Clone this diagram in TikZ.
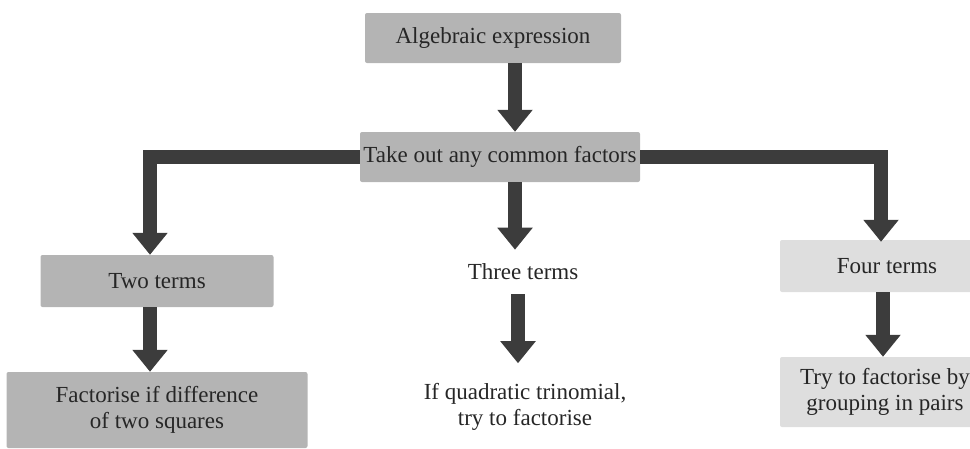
\documentclass[tikz,border=0pt]{standalone}
\usepackage{fontspec}
\setmainfont{Liberation Serif}
\usetikzlibrary{arrows.meta}
\definecolor{boxgray}{HTML}{B4B4B4}
\definecolor{fadegray}{HTML}{DEDEDE}
\definecolor{arrowgray}{HTML}{3C3C3C}

\begin{document}
\begin{tikzpicture}[x=1pt,y=-1pt,
    tbox/.style={fill=boxgray, rounded corners=2pt, inner sep=0pt, text=black!85,
        font=\fontsize{23}{26}\selectfont, align=center},
    fbox/.style={tbox, fill=fadegray},
    plain/.style={inner sep=0pt, text=black!85, font=\fontsize{23}{26}\selectfont, align=center},
    fat/.style={line width=14pt, draw=arrowgray, -{Triangle[width=34pt,length=22pt]}}]
    \useasboundingbox (0,0) rectangle (970,448);
    % factorising flow chart
        \node (alg) at (493,38) [tbox, minimum width=256pt, minimum height=50pt] {Algebraic expression};
        \node (common) at (500,157) [tbox, minimum width=280pt, minimum height=50pt] {Take out any common factors};
        \node (two) at (157,281) [tbox, minimum width=233pt, minimum height=52pt] {Two terms};
        \node (diff) at (157,410) [tbox, minimum width=301pt, minimum height=76pt] {Factorise if difference\\of two squares};
        \node (three) at (523,272) [plain] {Three terms};
        \node (quad) at (525,407) [plain] {If quadratic trinomial,\\try to factorise};
        \node (four) at (895,266) [fbox, minimum width=230pt, minimum height=52pt] {\hspace*{-16pt}Four terms};
        \node (pairs) at (895,392) [fbox, minimum width=230pt, minimum height=70pt] {\hspace*{-20pt}Try to factorise by\\\hspace*{-20pt}grouping in pairs};

        \draw[fat] ([xshift=22pt]alg.south) -- ([xshift=15pt]common.north);
        \draw[fat] (common.west) -| ([xshift=-7pt]two.north);
        \draw[fat] ([xshift=-7pt]two.south) -- ([xshift=-7pt]diff.north);
        \draw[fat] ([xshift=15pt]common.south) -- ([xshift=-8pt,yshift=14pt]three.north);
        \draw[fat] ([xshift=-5pt,yshift=-14pt]three.south) -- ([xshift=-7pt,yshift=20pt]quad.north);
        \draw[fat] (common.east) -| ([xshift=-14pt,yshift=-2pt]four.north);
        \draw[fat] ([xshift=-12pt]four.south) -- ([xshift=-12pt]pairs.north);

  \end{tikzpicture}
\end{document}
